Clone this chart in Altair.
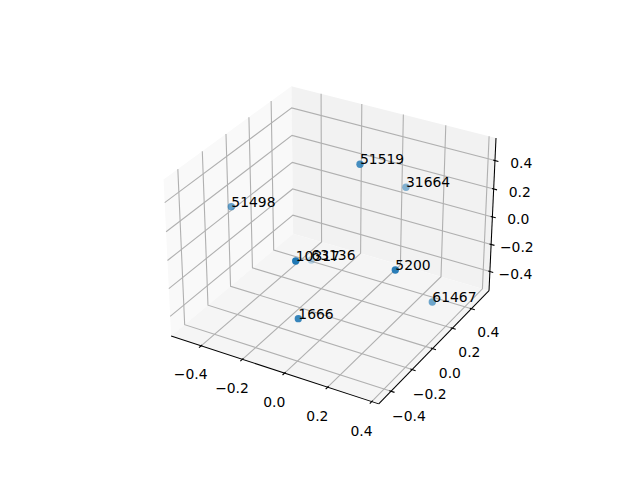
import numpy as np
import pandas as pd
import altair as alt

# ---------------- data: labelled points in 3-D ----------------
labels = ["51519", "31664", "51498", "10317", "63136", "5200", "61467", "1666"]
xs = [0.0447, 0.1072, -0.4273, -0.0018, -0.2752, 0.3252, 0.3624, 0.0173]
ys = [0.0814, 0.4005, -0.1797, -0.4026, 0.2503, -0.1545, 0.1382, -0.4210]
zs = [0.5302, 0.1978, 0.2086, 0.1631, -0.3970, 0.0767, -0.3387, -0.2162]

# axis limits and ticks
xlim = [-0.5285, 0.4119]
ylim = [-0.4915, 0.5668]
zlim = [-0.5217, 0.5342]
tick_values = [-0.4, -0.2, 0.0, 0.2, 0.4]
tick_text = ["\u22120.4", "\u22120.2", "0.0", "0.2", "0.4"]

# ---------------- view / layout ----------------
ELEV, AZIM, DIST = 30.0, -60.0, 10.0
FIG_W, FIG_H, DPI = 640, 480, 100.0
CW, CH = 600, 450          # chart size (page margin is 8px)
POINT_COLOR = "#1f77b4"
FONT = "DejaVu Sans"
FS = 13.9

lims = np.array([xlim, ylim, zlim], float)
rng = lims[:, 1] - lims[:, 0]
box = np.array([4.0, 4.0, 3.0])
box = box * 1.8294640721620434 / np.linalg.norm(box)
R = box / 2
el, az = np.radians(ELEV), np.radians(AZIM)
w = np.array([np.cos(el) * np.cos(az), np.cos(el) * np.sin(az), np.sin(el)])
u = np.cross([0.0, 0.0, 1.0], w)
u /= np.linalg.norm(u)
v = np.cross(w, u)

ax_l, ax_b, ax_w, ax_h = 0.125 * FIG_W, 0.11 * FIG_H, 0.775 * FIG_W, 0.77 * FIG_H
side = min(ax_w, ax_h)
x0 = ax_l + (ax_w - side) / 2
ytop = FIG_H - (ax_b + ax_h) + (ax_h - side) / 2
VL0, VL1 = -0.95 / DIST, 0.9 / DIST


def project(p):
    p = np.atleast_2d(np.asarray(p, float))
    b = (p - lims[:, 0]) / rng * box
    d = b - R
    depth = DIST - d @ w
    X = (d @ u) / depth
    Y = (d @ v) / depth
    px = x0 + (X - VL0) / (VL1 - VL0) * side
    py = ytop + (VL1 - Y) / (VL1 - VL0) * side
    return px, py, -DIST / depth


delta = rng / 12.0
lo_p = lims[:, 0] - delta / 4
hi_p = lims[:, 1] + delta / 4
center = (lo_p + hi_p) / 2
minmax = np.where(w > 0, lo_p, hi_p)   # far corner
maxmin = np.where(w > 0, hi_p, lo_p)
highs = minmax == hi_p

# ---------------- panes ----------------
pane_rows = []
for i, name in enumerate(["x", "y", "z"]):
    j, k = [a for a in range(3) if a != i]
    corners = []
    for a, b in [(0, 0), (1, 0), (1, 1), (0, 1)]:
        p = np.empty(3)
        p[i] = minmax[i]
        p[j] = (lo_p[j], hi_p[j])[a]
        p[k] = (lo_p[k], hi_p[k])[b]
        corners.append(p)
    px, py, _ = project(np.array(corners))
    pts = list(zip(px, py))
    n = len(pts)
    for xv in sorted(set(np.round(px, 6))):
        hits = []
        for m in range(n):
            (x1, y1), (x2, y2) = pts[m], pts[(m + 1) % n]
            if min(x1, x2) - 1e-6 <= xv <= max(x1, x2) + 1e-6:
                if abs(x2 - x1) < 1e-9:
                    hits += [y1, y2]
                else:
                    hits.append(y1 + (y2 - y1) * (xv - x1) / (x2 - x1))
        pane_rows.append({"pane": name, "px": xv, "top": min(hits), "bot": max(hits)})
pane_df = pd.DataFrame(pane_rows)

# ---------------- grid, axis lines, ticks ----------------
grid_rows, axis_rows, tick_rows, label_rows = [], [], [], []
juggled = [(1, 0, 2), (0, 1, 2), (0, 2, 1)]
tickdirs = [1, 0, 0]
dpp = 48.0 / (72.0 * 2 * side / DPI)
labeldelta = (3.5 + 8.0) * dpp * delta
gid = 0
for idx in range(3):
    for t in tick_values:
        p0 = minmax.copy()
        p0[idx] = t
        l0 = p0.copy(); l0[idx - 2] = maxmin[idx - 2]
        l2 = p0.copy(); l2[idx - 1] = maxmin[idx - 1]
        px, py, _ = project(np.array([l0, p0, l2]))
        for kk in range(3):
            grid_rows.append({"gid": gid, "k": kk, "px": px[kk], "py": py[kk]})
        gid += 1
    j0, j1, _ = juggled[idx]
    e1 = minmax.copy(); e1[j0] = maxmin[j0]
    e2 = e1.copy(); e2[j1] = maxmin[j1]
    px, py, _ = project(np.array([e1, e2]))
    axis_rows.append({"x1": px[0], "y1": py[0], "x2": px[1], "y2": py[1]})
    td = tickdirs[idx]
    sign = 1.0 if highs[td] else -1.0
    for t, txt in zip(tick_values, tick_text):
        pos = e1.copy(); pos[idx] = t
        pa = pos.copy(); pa[td] = e1[td] + 0.1 * sign * delta[td]
        pb = pos.copy(); pb[td] = e1[td] - 0.2 * sign * delta[td]
        px, py, _ = project(np.array([pa, pb]))
        tick_rows.append({"x1": px[0], "y1": py[0], "x2": px[1], "y2": py[1]})
        pl = pos.copy(); pl[td] = e1[td]
        for m in range(3):
            if m != idx:
                pl[m] += np.copysign(1.0, pl[m] - center[m]) * labeldelta[m]
        px, py, _ = project(pl)
        label_rows.append({"px": px[0], "py": py[0], "txt": txt})

grid_df = pd.DataFrame(grid_rows)
axis_df = pd.DataFrame(axis_rows)
tick_df = pd.DataFrame(tick_rows)
label_df = pd.DataFrame(label_rows)

# ---------------- points ----------------
P = np.column_stack([xs, ys, zs])
ppx, ppy, pz = project(P)
alpha = 1 - 0.7 * (pz - pz.min()) / (pz.max() - pz.min())
pts_df = pd.DataFrame({"label": labels, "px": ppx, "py": ppy, "depth": pz, "alpha": alpha})
pts_sorted = pts_df.sort_values("depth", ascending=False)

# ---------------- chart ----------------
XS = alt.Scale(domain=[8, 8 + CW], nice=False, zero=False)
YS = alt.Scale(domain=[8, 8 + CH], nice=False, zero=False, reverse=True)


def X(f):
    return alt.X(f, type="quantitative", scale=XS, axis=None)


def Y(f, **kw):
    return alt.Y(f, type="quantitative", scale=YS, axis=None, **kw)


panes = alt.Chart(pane_df).mark_area(opacity=1, interpolate="linear").encode(
    x=X("px"),
    y=Y("top", stack=None),
    y2=alt.Y2("bot"),
    color=alt.Color("pane:N", scale=alt.Scale(domain=["x", "y", "z"],
                                              range=["#f9f9f9", "#f2f2f2", "#f5f5f5"]),
                    legend=None),
)

grid = alt.Chart(grid_df).mark_line(color="#b0b0b0", strokeWidth=1.1).encode(
    x=X("px"), y=Y("py"), detail="gid:N", order="k:Q"
)

axes_lines = alt.Chart(axis_df).mark_rule(color="black", strokeWidth=1.05).encode(
    x=X("x1"), y=Y("y1"), x2=alt.X2("x2"), y2=alt.Y2("y2")
)

ticks = alt.Chart(tick_df).mark_rule(color="black", strokeWidth=1.1).encode(
    x=X("x1"), y=Y("y1"), x2=alt.X2("x2"), y2=alt.Y2("y2")
)

tick_labels = alt.Chart(label_df).mark_text(
    align="center", baseline="top", font=FONT, fontSize=FS, color="black"
).encode(x=X("px"), y=Y("py"), text="txt:N")

points = alt.Chart(pts_sorted).mark_circle(size=54, color=POINT_COLOR).encode(
    x=X("px"), y=Y("py"), opacity=alt.Opacity("alpha:Q", scale=None)
)

point_labels = alt.Chart(pts_df).mark_text(
    align="left", baseline="alphabetic", font=FONT, fontSize=FS, color="black"
).encode(x=X("px"), y=Y("py"), text="label:N")

chart = alt.layer(panes, grid, axes_lines, ticks, tick_labels, points, point_labels).properties(
    width=CW, height=CH, autosize=alt.AutoSizeParams(type="none"), padding=0
).configure_view(strokeWidth=0)

chart.save("out.html", embed_options={"renderer": "svg", "actions": False})
